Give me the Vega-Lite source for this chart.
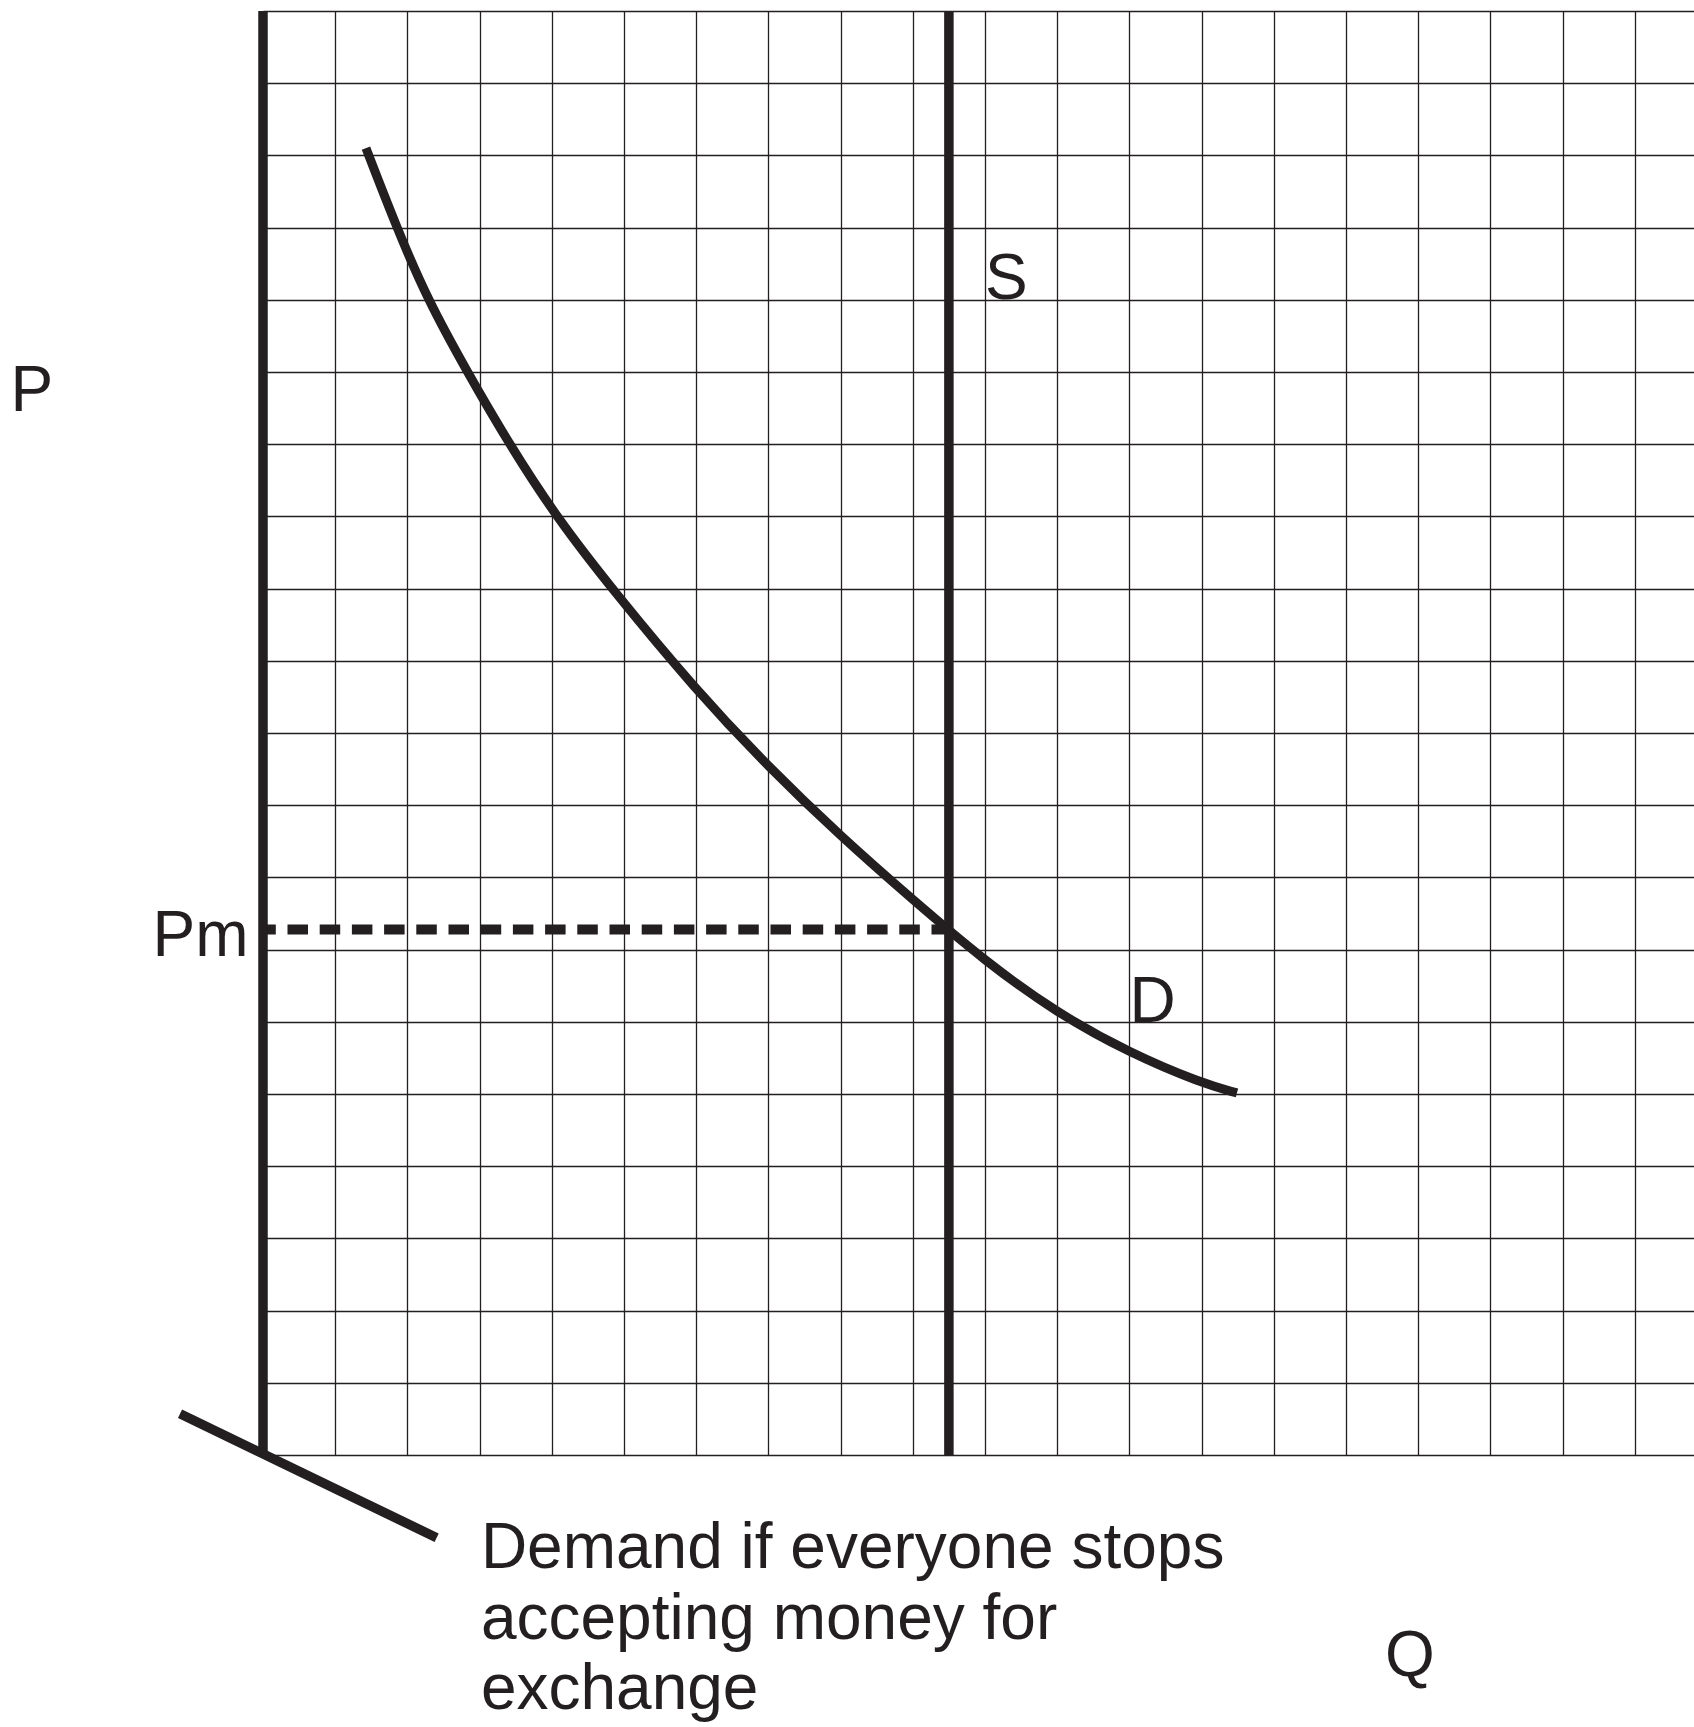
{
  "$schema": "https://vega.github.io/schema/vega-lite/v6.json",
  "autosize": "none",
  "padding": {"left": 263, "top": 11, "right": 0, "bottom": 272},
  "width": 1431,
  "height": 1444,
  "background": "white",
  "config": {"view": {"stroke": null}},
  "datasets": {
    "demand": [
      {"q": 1.426, "p": 18.10},
      {"q": 1.851, "p": 17.00},
      {"q": 2.280, "p": 16.00},
      {"q": 2.829, "p": 15.00},
      {"q": 3.411, "p": 14.00},
      {"q": 4.057, "p": 13.00},
      {"q": 4.828, "p": 12.00},
      {"q": 6.0, "p": 10.59},
      {"q": 7.0, "p": 9.53},
      {"q": 8.0, "p": 8.57},
      {"q": 9.0, "p": 7.69},
      {"q": 10.0, "p": 6.84},
      {"q": 11.0, "p": 6.12},
      {"q": 12.0, "p": 5.57},
      {"q": 13.0, "p": 5.15},
      {"q": 13.49, "p": 5.015}
    ],
    "solidRules": [
      {"name": "P axis", "x": 0, "x2": 0, "y": 0, "y2": 20},
      {"name": "S", "x": 9.5, "x2": 9.5, "y": 0, "y2": 20},
      {"name": "Demand without money", "x": -1.149, "x2": 2.405, "y": 0.57, "y2": -1.146}
    ],
    "pm": [
      {"name": "Pm", "x": 0, "x2": 9.5, "y": 7.28, "y2": 7.28}
    ],
    "labels": [
      {"label": "P", "x": -3.498, "y": 14.453},
      {"label": "Pm", "x": -1.53, "y": 6.907},
      {"label": "S", "x": 10.0, "y": 16.01},
      {"label": "D", "x": 12.0, "y": 6.0},
      {"label": "Q", "x": 15.54, "y": -3.067},
      {"label": "Demand if everyone stops", "x": 3.018, "y": -1.572},
      {"label": "accepting money for", "x": 3.018, "y": -2.545},
      {"label": "exchange", "x": 3.018, "y": -3.514}
    ]
  },
  "layer": [
    {
      "data": {"name": "demand"},
      "mark": {"type": "line", "interpolate": "basis", "color": "#231f20", "strokeWidth": 9, "strokeCap": "butt"},
      "encoding": {
        "x": {
          "field": "q", "type": "quantitative",
          "scale": {"domain": [0, 19.82], "nice": false, "zero": false},
          "axis": {
            "values": [1,2,3,4,5,6,7,8,9,10,11,12,13,14,15,16,17,18,19],
            "grid": true, "gridColor": "#231f20", "gridWidth": 1.3, "gridOpacity": 1,
            "domain": false, "ticks": false, "labels": false, "title": null
          }
        },
        "y": {
          "field": "p", "type": "quantitative",
          "scale": {"domain": [0, 20], "nice": false, "zero": false},
          "axis": {
            "values": [0,1,2,3,4,5,6,7,8,9,10,11,12,13,14,15,16,17,18,19,20],
            "grid": true, "gridColor": "#231f20", "gridWidth": 1.3, "gridOpacity": 1,
            "domain": false, "ticks": false, "labels": false, "title": null
          }
        }
      }
    },
    {
      "data": {"name": "solidRules"},
      "mark": {"type": "rule", "color": "#231f20", "strokeWidth": 9.5, "strokeCap": "butt"},
      "encoding": {
        "x": {"field": "x", "type": "quantitative"},
        "x2": {"field": "x2"},
        "y": {"field": "y", "type": "quantitative"},
        "y2": {"field": "y2"}
      }
    },
    {
      "data": {"name": "pm"},
      "mark": {"type": "rule", "color": "#231f20", "strokeWidth": 10, "strokeCap": "butt", "strokeDash": [20.5, 11.7], "strokeDashOffset": 7.7},
      "encoding": {
        "x": {"field": "x", "type": "quantitative"},
        "x2": {"field": "x2"},
        "y": {"field": "y", "type": "quantitative"}
      }
    },
    {
      "data": {"name": "labels"},
      "mark": {"type": "text", "align": "left", "baseline": "alphabetic", "font": "Liberation Sans", "fontSize": 64, "color": "#231f20"},
      "encoding": {
        "x": {"field": "x", "type": "quantitative"},
        "y": {"field": "y", "type": "quantitative"},
        "text": {"field": "label"}
      }
    }
  ]
}
